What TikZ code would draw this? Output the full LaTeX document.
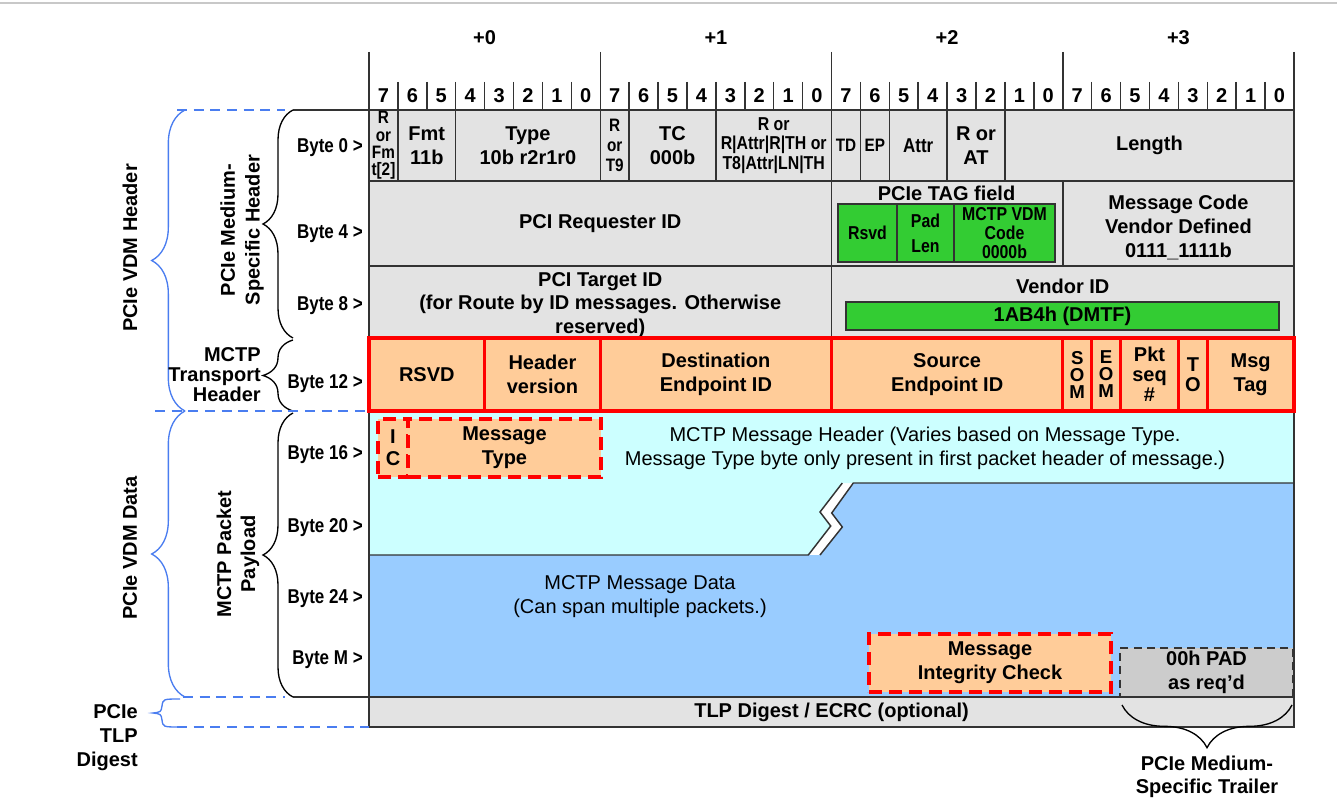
\documentclass[tikz,border=0pt]{standalone}
\usepackage{fontspec}
\setmainfont{Liberation Sans}
\newfontfamily\narrowfont[FakeStretch=0.85]{Liberation Sans}
\usepackage{tikz}
\usetikzlibrary{decorations.pathreplacing}

\definecolor{linegrey}{HTML}{333333}
\definecolor{cellgrey}{HTML}{E3E3E3}
\definecolor{framegrey}{HTML}{C8C8C8}
\definecolor{vdmgreen}{HTML}{33CC33}
\definecolor{peach}{HTML}{FFCC99}
\definecolor{mctpred}{HTML}{FF0000}
\definecolor{hdrcyan}{HTML}{CCFFFF}
\definecolor{datablue}{HTML}{99CCFF}
\definecolor{padgrey}{HTML}{CCCCCC}
\definecolor{braceblue}{HTML}{4A7DF0}

\newcommand{\fldfont}{\bfseries\fontsize{15}{18}\selectfont}
\newcommand{\fldnarrow}{\narrowfont\bfseries\fontsize{14}{14}\selectfont}
\newcommand{\fldtiny}{\narrowfont\bfseries\fontsize{13.5}{13}\selectfont}
\newcommand{\txtfont}{\fontsize{15}{18}\selectfont}

\tikzstyle{grid} = [draw=linegrey, line width=1.1pt]
\tikzstyle{lbl} = [inner sep=0pt, align=center, font=\fldfont]
\tikzstyle{bytelbl} = [inner sep=0pt, anchor=east, font=\narrowfont\bfseries\fontsize{15}{18}\selectfont]
\tikzstyle{cell} = [draw=linegrey, line width=1.1pt, fill=cellgrey, inner sep=0pt, align=center, font=\fldfont]
\tikzstyle{greencell} = [cell, fill=vdmgreen]
\tikzstyle{redcell} = [cell, draw=mctpred, line width=2.4pt, fill=peach]
\tikzstyle{dashcell} = [cell, draw=mctpred, line width=3pt, dash pattern=on 10pt off 5pt, fill=peach]
\tikzstyle{padcell} = [cell, dash pattern=on 6pt off 4pt, fill=padgrey]
\tikzstyle{blkbrace} = [draw=black, line width=1pt, decorate, decoration={brace, amplitude=22.5pt}]
\tikzstyle{bluebrace} = [draw=braceblue, line width=1pt, decorate, decoration={brace, amplitude=25pt}]
\tikzstyle{bluedash} = [draw=braceblue, line width=1.1pt, dash pattern=on 7.5pt off 5pt]

% box from (x1,y1) to (x2,y2) in pixel units
\newcommand{\fieldbox}[7]{%
  \node (#1) [#2, minimum width={((#5)-(#3))*0.75pt}, minimum height={((#6)-(#4))*0.75pt}]
    at ({((#3)+(#5))/2},{((#4)+(#6))/2}) {#7};}

\begin{document}
\begin{tikzpicture}[x=0.75pt, y=-0.75pt]
\useasboundingbox [fill=white] (0,0) rectangle (1337,805);
\draw [draw=framegrey, line width=1.5pt] (0,3) -- (1337,3);

% byte offsets and bit numbers
\node (off0) [lbl] at (484.6,38) {+0};
\node (off1) [lbl] at (715.9,38) {+1};
\node (off2) [lbl] at (947.1,38) {+2};
\node (off3) [lbl] at (1178.4,38) {+3};
\foreach \k in {0,...,4}
  \draw [grid] ({369+\k*231.25},52) -- ({369+\k*231.25},110);
\foreach \b in {1,...,31}
  \draw [grid] ({369+\b*28.906},82) -- ({369+\b*28.906},110);
\foreach \b [evaluate=\b as \d using {int(7-mod(\b,8))}] in {0,...,31}
  \node (bit\b) [lbl] at ({369+(\b+0.5)*28.906},96) {\d};

% payload areas
\fill [hdrcyan] (369,411) -- (1294,411) -- (1294,483) -- (842.3,483) -- (820,512)
  -- (830.7,526) -- (808.3,555) -- (369,555) -- cycle;
\fill [datablue] (853.3,483) -- (1294,483) -- (1294,697) -- (369,697) -- (369,555)
  -- (820,555) -- (842.3,527) -- (831.7,513) -- cycle;
\draw [grid] (369,555) -- (808.3,555) -- (830.7,526) -- (820,512) -- (842.3,483);
\draw [grid] (820,555) -- (842.3,527) -- (831.7,513) -- (853.3,483) -- (1294,483);
\draw [grid] (369,411) -- (369,697);
\draw [grid] (1294,411) -- (1294,697);

% byte 0
\fieldbox{rfmt}{cell, font=\fldtiny}{369}{110}{397.9}{181}{R\\or\\Fm\\t[2]}
\fieldbox{fmt}{cell}{397.9}{110}{455.7}{181}{Fmt\\11b}
\fieldbox{type}{cell}{455.7}{110}{600.25}{181}{Type\\10b r2r1r0}
\fieldbox{rtnine}{cell, font=\narrowfont\bfseries\fontsize{13.5}{15}\selectfont}{600.25}{110}{629.2}{181}{R\\or\\T9}
\fieldbox{tc}{cell}{629.2}{110}{715.9}{181}{TC\\000b}
\fieldbox{rattr}{cell, font=\narrowfont\bfseries\fontsize{14}{14.5}\selectfont}{715.9}{110}{831.5}{181}{R or\\R|Attr|R|TH or\\T8|Attr|LN|TH}
\fieldbox{td}{cell, font=\fldtiny}{831.5}{110}{860.4}{181}{TD}
\fieldbox{ep}{cell, font=\fldtiny}{860.4}{110}{889.3}{181}{EP}
\fieldbox{attr}{cell, font=\narrowfont\bfseries\fontsize{15}{16}\selectfont}{889.3}{110}{947.1}{181}{Attr}
\fieldbox{rat}{cell}{947.1}{110}{1004.9}{181}{R or\\AT}
\fieldbox{len}{cell}{1004.9}{110}{1294}{181}{Length}

% byte 4
\fieldbox{reqid}{cell}{369}{181}{831.5}{266}{PCI Requester ID}
\fieldbox{tag}{cell}{831.5}{181}{1062.75}{266}{}
\node (tagttl) [lbl] at (946.5,193) {PCIe TAG field};
\fieldbox{rsvd}{greencell, font=\fldnarrow}{838}{204}{897}{262}{Rsvd}
\fieldbox{padlen}{greencell, font=\narrowfont\bfseries\fontsize{14}{18.5}\selectfont}{897}{204}{954}{262}{Pad\\Len}
\fieldbox{vdmcode}{greencell, font=\fldnarrow}{954}{204}{1055}{262}{MCTP VDM\\Code\\0000b}
\fieldbox{msgcode}{cell}{1062.75}{181}{1294}{266}{}
\node (msgcodettl) [lbl] at (1178.4,227) {Message Code\\Vendor Defined\\0111\_1111b};

% byte 8
\fieldbox{tgtid}{cell}{369}{266}{831.5}{338}{}
\node (tgtidttl) [lbl, font=\bfseries\fontsize{15}{17.5}\selectfont] at (600.25,305) {PCI Target ID\\(for Route by ID messages. Otherwise\\reserved)};
\fieldbox{vendor}{cell}{831.5}{266}{1294}{338}{}
\node (vidttl) [lbl] at (1062.75,286) {Vendor ID};
\fieldbox{dmtf}{greencell}{846}{302}{1279}{330}{1AB4h (DMTF)}

% byte 12: MCTP transport header
\fieldbox{trsvd}{redcell}{369}{338}{484.6}{411}{RSVD}
\fieldbox{hdrver}{redcell}{484.6}{338}{600.25}{411}{Header\\version}
\fieldbox{dstid}{redcell}{600.25}{338}{831.5}{411}{Destination\\Endpoint ID}
\fieldbox{srcid}{redcell}{831.5}{338}{1062.75}{411}{Source\\Endpoint ID}
\fieldbox{som}{redcell, font=\bfseries\fontsize{14}{12.75}\selectfont}{1062.75}{338}{1091.7}{411}{S\\O\\M}
\fieldbox{eom}{redcell, font=\bfseries\fontsize{14}{12.75}\selectfont}{1091.7}{338}{1120.6}{411}{E\\O\\M}
\fieldbox{pktseq}{redcell, font=\bfseries\fontsize{15}{15}\selectfont}{1120.6}{338}{1178.4}{411}{Pkt\\seq\\\#}
\fieldbox{tagowner}{redcell, font=\bfseries\fontsize{15}{15}\selectfont}{1178.4}{338}{1207.3}{411}{T\\O}
\fieldbox{msgtag}{redcell}{1207.3}{338}{1294}{411}{Msg\\Tag}

% byte 16 onwards: MCTP packet payload
\fieldbox{ic}{dashcell, font=\bfseries\fontsize{15}{16.5}\selectfont}{378}{419}{408}{477}{I\\C}
\fieldbox{msgtype}{dashcell}{408}{419}{601}{477}{Message\\Type}
\node (msghdr) [lbl, font=\txtfont] at (925,448) {MCTP Message Header (Varies based on Message Type.\\Message Type byte only present in first packet header of message.)};
\node (msgdata) [lbl, font=\txtfont] at (640,597) {MCTP Message Data\\(Can span multiple packets.)};
\fieldbox{mic}{dashcell}{869}{634}{1111}{692}{Message\\Integrity Check}
\fieldbox{pad}{padcell}{1120}{648}{1293}{697}{00h PAD\\as req’d}
\fieldbox{ecrc}{cell}{369}{697}{1294}{727}{TLP Digest / ECRC (optional)}

% byte labels
\foreach \n/\y in {0/148, 4/234, 8/306, 12/384, 16/455, 20/528, 24/599, M/660}
  \node (byte\n) [bytelbl] at (363,\y) {Byte \n{} >};

% black braces
\draw [grid] (293,110) -- (369,110);
\draw [grid] (293,697) -- (369,697);
\draw [blkbrace] (293,338) -- (293,110);
\draw [blkbrace] (293,411) -- (293,340);
\draw [blkbrace] (293,697) -- (293,413);
\draw [blkbrace, decoration={brace, amplitude=32pt}] (1292,705) -- (1122,705);

% blue braces
\draw [bluedash] (177,110) -- (285,110);
\draw [bluedash] (155,411) -- (369,411);
\draw [bluedash] (183,697) -- (285,697);
\draw [bluedash] (177,727) -- (369,727);
\draw [bluebrace] (185,411) -- (185,110);
\draw [bluebrace] (185,697) -- (185,411);
\draw [draw=braceblue, line width=1pt] (180,699) .. controls (163,699) .. (162,706)
  .. controls (161,712) .. (153,713) .. controls (161,714) .. (162,720)
  .. controls (163,727) .. (180,727);

% group labels
\node (vdmhdr) [lbl, rotate=90] at (130,248) {PCIe VDM Header};
\node (msh) [lbl, rotate=90, font=\bfseries\fontsize{15}{18.5}\selectfont] at (242,230) {PCIe Medium-\\Specific Header};
\node (trans) [lbl, align=right, anchor=east, font=\bfseries\fontsize{15}{15}\selectfont] at (261,375) {MCTP\\Transport\\Header};
\node (payload) [lbl, rotate=90] at (238,554) {MCTP Packet\\Payload};
\node (vdmdata) [lbl, rotate=90] at (130,548) {PCIe VDM Data};
\node (digest) [lbl, align=right, anchor=east] at (138,738) {PCIe\\TLP\\Digest};
\node (trailer) [lbl, font=\bfseries\fontsize{15}{17.25}\selectfont] at (1207,777) {PCIe Medium-\\Specific Trailer};
\end{tikzpicture}
\end{document}
